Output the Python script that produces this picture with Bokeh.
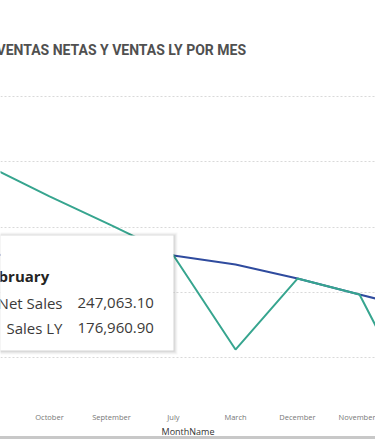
from bokeh.plotting import figure
from bokeh.models import Range1d, FixedTicker, ColumnDataSource, Div
from bokeh.layouts import column
from bokeh.core.properties import value
from bokeh.embed import file_html
from bokeh.resources import INLINE

# ---- data ----
months = ["February", "October", "September", "July", "March", "December", "November", "January"]
net_sales = [247063.10, 223400, 201300, 178200, 106100, 160500, 148300, 56300]
sales_ly = [176960.90, 185200, 181900, 178200, 171300, 160500, 148300, 136400]
y_ticks = [100000, 150000, 200000, 250000, 300000]
hover_month = "February"
hover_labels = ["Net Sales", "Sales LY"]
hover_values = ["247,063.10", "176,960.90"]

xs = list(range(len(months)))

# pixel -> data helpers (layout only)
def xd(px):
    return 1 + (px - 49) / 62.0

def yd(py):
    return 100000 + (357 - py) * 50000 / 65.25

TEAL = "#37A58F"
NAVY = "#2F4B9E"

p = figure(frame_width=375, frame_height=335,
           x_range=Range1d(xd(0), xd(375)), y_range=Range1d(yd(405), yd(70)),
           output_backend="svg", toolbar_location=None,
           min_border_left=0, min_border_right=0, min_border_top=70, min_border_bottom=0,
           outline_line_color=None, background_fill_color="white", border_fill_color="white")

p.title.text = "VENTAS NETAS Y VENTAS LY POR MES"
p.title.text_font = "Roboto"
p.title.text_font_size = "14px"
p.title.text_font_style = "bold"
p.title.text_color = "#505050"
p.title.align = "left"
p.title.offset = -4
p.title.standoff = 25

# axes
ax = p.xaxis[0]
ax.ticker = FixedTicker(ticks=xs)
ax.major_label_overrides = {i: m for i, m in enumerate(months)}
ax.major_label_text_font = "Open Sans"
ax.major_label_text_font_size = "7.5px"
ax.major_label_text_color = "#777777"
ax.major_tick_line_color = None
ax.minor_tick_line_color = None
ax.major_tick_out = 0
ax.axis_line_color = None
ax.major_label_standoff = 6
ax.axis_label = "MonthName"
ax.axis_label_text_font = "Open Sans"
ax.axis_label_text_font_size = "9px"
ax.axis_label_text_font_style = "normal"
ax.axis_label_text_color = "#333333"
ax.axis_label_standoff = 0

p.yaxis.visible = False
p.xgrid.visible = False
p.ygrid.ticker = FixedTicker(ticks=y_ticks)
p.ygrid.grid_line_color = "#d9d9d9"
p.ygrid.grid_line_dash = "2 2"

# lines
src = ColumnDataSource(dict(x=xs, net=net_sales, ly=sales_ly))
p.line("x", "ly", source=src, line_color=NAVY, line_width=2)
p.line("x", "net", source=src, line_color=TEAL, line_width=2)

# tooltip annotation anchored at July
j = months.index("July")
t_right = j
t_left = xd(-20)
t_top = yd(235)
t_bot = yd(350)
for k, a in enumerate([0.05, 0.05, 0.04, 0.03]):
    d = k + 1
    p.quad(left=[t_left], right=[t_right + d / 62.0], top=[yd(235 - d + 1)], bottom=[yd(350 + d)],
           fill_color="black", fill_alpha=a, line_color=None)
p.quad(left=[t_left], right=[t_right], top=[t_top], bottom=[t_bot],
       fill_color="white", line_color=None)

p.text(x=[xd(-19)], y=[yd(275)], text=[hover_month], text_font=value("Open Sans"),
       text_font_size="15px", text_font_style="bold", text_color="#252423",
       text_baseline="alphabetic", text_align="left")
p.text(x=[xd(62), xd(62)], y=[yd(302), yd(327)], text=hover_labels, text_font=value("Open Sans"),
       text_font_size="15px", text_color="#3b3a39", text_baseline="alphabetic", text_align="right")
p.text(x=[xd(77), xd(77)], y=[yd(302), yd(327)], text=hover_values, text_font=value("Open Sans"),
       text_font_size="15px", text_color="#3b3a39", text_baseline="alphabetic", text_align="left")

# grey bottom border of the visual
bar = Div(text="", width=375, height=3, margin=(-4, 0, 0, 0),
          styles={"background-color": "#c8c8c8"})

layout = column(p, bar, spacing=0)
open("out.html", "w").write(file_html(layout, INLINE))
